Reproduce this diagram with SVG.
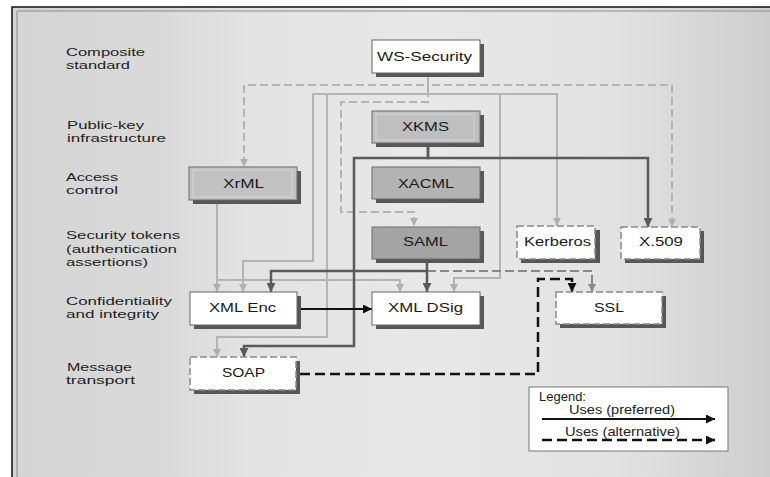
<svg xmlns="http://www.w3.org/2000/svg" width="770" height="477" viewBox="0 0 770 477">
<defs>
<linearGradient id="bg" x1="0" y1="0" x2="770" y2="0" gradientUnits="userSpaceOnUse">
<stop offset="0" stop-color="#d4d4d4"/>
<stop offset="0.22" stop-color="#dadada"/>
<stop offset="0.32" stop-color="#e3e3e3"/>
<stop offset="0.55" stop-color="#e8e8e8"/>
<stop offset="0.8" stop-color="#e2e2e2"/>
<stop offset="0.9" stop-color="#d8d8d8"/>
<stop offset="1" stop-color="#cdcdcd"/>
</linearGradient>
<marker id="aL" viewBox="0 0 8 8" refX="8" refY="4" markerWidth="8" markerHeight="8" markerUnits="userSpaceOnUse" orient="auto"><path d="M0,0 L8,4 L0,8 z" fill="#b0b0b0"/></marker>
<marker id="aK" viewBox="0 0 8 8" refX="8" refY="4" markerWidth="9" markerHeight="9" markerUnits="userSpaceOnUse" orient="auto"><path d="M0,0 L8,4 L0,8 z" fill="#5a5a5a"/></marker>
<marker id="aM" viewBox="0 0 8 8" refX="8" refY="4" markerWidth="8" markerHeight="8" markerUnits="userSpaceOnUse" orient="auto"><path d="M0,0 L8,4 L0,8 z" fill="#888888"/></marker>
<marker id="aB" viewBox="0 0 8 8" refX="8" refY="4" markerWidth="9" markerHeight="9" markerUnits="userSpaceOnUse" orient="auto"><path d="M0,0 L8,4 L0,8 z" fill="#111111"/></marker>
</defs>
<style>
.lab{font-family:"Liberation Sans",Arial,sans-serif;font-size:11.2px;fill:#1e1e1e}
.nt{font-family:"Liberation Sans",Arial,sans-serif;font-size:13px;fill:#1a1a1a}
.lg{font-family:"Liberation Sans",Arial,sans-serif;font-size:12px;fill:#222}
.sh{fill:#575757}
.wb{fill:#ffffff;stroke:#666;stroke-width:1}
.db{fill:#ffffff;stroke:#8a8a8a;stroke-width:1.5;stroke-dasharray:7 3}
.gb{stroke:#6a6a6a;stroke-width:1}
.inner{fill:none;stroke:#d6d6d6;stroke-width:1}
.cL{fill:none;stroke:#b4b4b4;stroke-width:2}
.cLd{fill:none;stroke:#b4b4b4;stroke-width:2;stroke-dasharray:8 4}
.cK{fill:none;stroke:#5a5a5a;stroke-width:2.5}
.cM{fill:none;stroke:#888;stroke-width:2;stroke-dasharray:9 4}
.cB{fill:none;stroke:#111;stroke-width:2}
.cBd{fill:none;stroke:#111;stroke-width:2.5;stroke-dasharray:10 5}
</style>
<rect x="0" y="0" width="770" height="477" fill="#ffffff"/>
<rect x="12" y="7" width="758" height="470" fill="url(#bg)"/>
<path d="M12,477 V7 H770" fill="none" stroke="#111" stroke-width="1.5"/>
<path d="M17,477 V11 H770" fill="none" stroke="#8a8a8a" stroke-width="1"/>
<g id="labels">
<text class="lab" x="66" y="56" textLength="79" lengthAdjust="spacingAndGlyphs">Composite</text>
<text class="lab" x="66" y="68.7" textLength="64" lengthAdjust="spacingAndGlyphs">standard</text>
<text class="lab" x="67" y="129" textLength="77" lengthAdjust="spacingAndGlyphs">Public-key</text>
<text class="lab" x="67" y="141.8" textLength="99" lengthAdjust="spacingAndGlyphs">infrastructure</text>
<text class="lab" x="66" y="181" textLength="52" lengthAdjust="spacingAndGlyphs">Access</text>
<text class="lab" x="66" y="194" textLength="52" lengthAdjust="spacingAndGlyphs">control</text>
<text class="lab" x="66" y="239" textLength="114" lengthAdjust="spacingAndGlyphs">Security tokens</text>
<text class="lab" x="66" y="252.5" textLength="111" lengthAdjust="spacingAndGlyphs">(authentication</text>
<text class="lab" x="66" y="266" textLength="82" lengthAdjust="spacingAndGlyphs">assertions)</text>
<text class="lab" x="66" y="305" textLength="106" lengthAdjust="spacingAndGlyphs">Confidentiality</text>
<text class="lab" x="66" y="317.8" textLength="93" lengthAdjust="spacingAndGlyphs">and integrity</text>
<text class="lab" x="67" y="371" textLength="65" lengthAdjust="spacingAndGlyphs">Message</text>
<text class="lab" x="66" y="383.8" textLength="69" lengthAdjust="spacingAndGlyphs">transport</text>
</g>
<g id="connectors">
<path class="cLd" d="M428,77 V85 H244 V167" marker-end="url(#aL)"/>
<path class="cLd" d="M428,77 V85 H672 V227" marker-end="url(#aL)"/>
<path class="cLd" d="M428,77 V102 H341 V212 H414 V226" marker-end="url(#aL)"/>
<path class="cL" d="M428,77 V94 H557 V226" marker-end="url(#aL)"/>
<path class="cL" d="M428,77 V94 H500 V278 H454 V292" marker-end="url(#aL)"/>
<path class="cL" d="M428,77 V94 H313 V261 H243 V292" marker-end="url(#aL)"/>
<path class="cL" d="M428,77 V94 H327 V337 H217 V357" marker-end="url(#aL)"/>
<path class="cL" d="M217,204 V292" marker-end="url(#aL)"/>
<path class="cL" d="M217,204 V280 H400 V292" marker-end="url(#aL)"/>
<path class="cK" d="M428,146 V158 H648 V227" marker-end="url(#aK)"/>
<path class="cK" d="M428,146 V158 H354 V346 H244 V357" marker-end="url(#aK)"/>
<path class="cM" d="M427,271 H592 V292" marker-end="url(#aM)"/>
<path class="cK" d="M427,262 V292" marker-end="url(#aK)"/>
<path class="cK" d="M427,271 H271 V292" marker-end="url(#aK)"/>
<path class="cB" d="M301,309 H372" marker-end="url(#aB)"/>
<path class="cBd" d="M300,374 H538 V279 H572 V292" marker-end="url(#aB)"/>
</g>
<g id="ws-security">
<rect class="sh" x="376" y="44" width="108" height="33"/>
<rect class="wb" x="372" y="40" width="108" height="33"/>
<text class="nt" x="377" y="61" textLength="95" lengthAdjust="spacingAndGlyphs">WS-Security</text>
</g>
<g id="xkms">
<rect class="sh" x="376" y="115" width="108" height="32"/>
<rect class="gb" x="372" y="111" width="108" height="32" fill="#bfbfbf"/>
<rect class="inner" x="376" y="114" width="98" height="26"/>
<text class="nt" x="402" y="131" textLength="47" lengthAdjust="spacingAndGlyphs">XKMS</text>
</g>
<g id="xacml">
<rect class="sh" x="376" y="171" width="108" height="32"/>
<rect class="gb" x="372" y="167" width="108" height="32" fill="#b3b3b3"/>
<text class="nt" x="398" y="188" textLength="56" lengthAdjust="spacingAndGlyphs">XACML</text>
</g>
<g id="saml">
<rect class="sh" x="376" y="231" width="108" height="32"/>
<rect class="gb" x="372" y="227" width="108" height="32" fill="#a4a4a4"/>
<text class="nt" x="403" y="246" textLength="45" lengthAdjust="spacingAndGlyphs">SAML</text>
</g>
<g id="xrml">
<rect class="sh" x="193" y="171" width="108" height="33"/>
<rect class="gb" x="189" y="167" width="108" height="33" fill="#c2c2c2"/>
<rect class="inner" x="193" y="170" width="99" height="27"/>
<text class="nt" x="223" y="187.5" textLength="41" lengthAdjust="spacingAndGlyphs">XrML</text>
</g>
<g id="kerberos">
<rect class="sh" x="521" y="230" width="79" height="33"/>
<rect class="db" x="517" y="226" width="78" height="33"/>
<text class="nt" x="524" y="246" textLength="67" lengthAdjust="spacingAndGlyphs">Kerberos</text>
</g>
<g id="x509">
<rect class="sh" x="625" y="231" width="79" height="32"/>
<rect class="db" x="621" y="227" width="79" height="32"/>
<text class="nt" x="639" y="246" textLength="44" lengthAdjust="spacingAndGlyphs">X.509</text>
</g>
<g id="xml-enc">
<rect class="sh" x="194" y="296" width="107" height="33"/>
<rect class="wb" x="190" y="292" width="107" height="33"/>
<text class="nt" x="209" y="312" textLength="67" lengthAdjust="spacingAndGlyphs">XML Enc</text>
</g>
<g id="xml-dsig">
<rect class="sh" x="376" y="296" width="108" height="33"/>
<rect class="wb" x="372" y="292" width="108" height="33"/>
<text class="nt" x="388" y="312" textLength="75" lengthAdjust="spacingAndGlyphs">XML DSig</text>
</g>
<g id="ssl">
<rect class="sh" x="560" y="296" width="106" height="32"/>
<rect class="db" x="556" y="292" width="106" height="32"/>
<text class="nt" x="594" y="312" textLength="30" lengthAdjust="spacingAndGlyphs">SSL</text>
</g>
<g id="soap">
<rect class="sh" x="194" y="361" width="106" height="33"/>
<rect class="db" x="190" y="357" width="106" height="33"/>
<text class="nt" x="222" y="377" textLength="43" lengthAdjust="spacingAndGlyphs">SOAP</text>
</g>
<g id="legend">
<rect x="529" y="387" width="199" height="64" fill="#ffffff" stroke="#777" stroke-width="1"/>
<text class="lg" x="539" y="401" textLength="47" lengthAdjust="spacingAndGlyphs">Legend:</text>
<text class="lg" x="569" y="414" textLength="106" lengthAdjust="spacingAndGlyphs">Uses (preferred)</text>
<path class="cB" d="M542,419 H715" marker-end="url(#aB)"/>
<text class="lg" x="565" y="435.5" textLength="115" lengthAdjust="spacingAndGlyphs">Uses (alternative)</text>
<path class="cBd" d="M542,440 H715" stroke-width="2" marker-end="url(#aB)"/>
</g>
</svg>
